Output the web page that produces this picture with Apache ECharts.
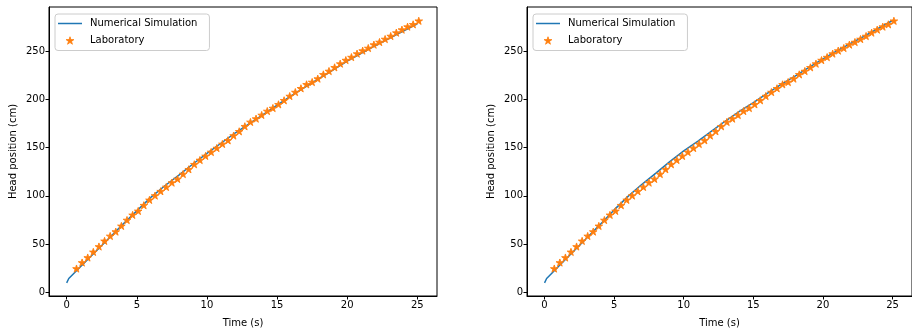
<!DOCTYPE html>
<html>
<head>
<meta charset="utf-8">
<script src="https://cdn.jsdelivr.net/npm/echarts@6/dist/echarts.min.js"></script>
<style>
html,body{margin:0;padding:0;background:#fff;}
#chart{width:912px;height:333px;}
</style>
</head>
<body>
<div id="chart"></div>
<script>
// ---- data ----
var labTime = [0.7,1.1,1.5,1.9,2.3,2.7,3.1,3.5,3.9,4.3,4.7,5.1,5.5,5.9,6.3,6.7,7.1,7.5,7.9,8.3,8.7,9.1,9.5,9.9,10.3,10.7,11.1,11.5,11.9,12.3,12.7,13.1,13.5,13.9,14.3,14.7,15.1,15.5,15.9,16.3,16.7,17.1,17.5,17.9,18.3,18.7,19.1,19.5,19.9,20.3,20.7,21.1,21.5,21.9,22.3,22.7,23.1,23.5,23.9,24.3,24.7,25.1];
var labPos = [24.8,31,36.2,42,47.6,53.4,58.5,63,68.9,75,80.3,84.4,90.3,95.8,100.3,104.8,109.2,113.7,117.5,122.6,127.5,132.7,137.1,141.3,145.4,149.5,153.7,157.5,162.4,166.8,172,176.5,179.9,183.7,187.8,190.9,194.7,198.9,203.3,207.4,211.3,215.4,217.8,221.3,225.7,229.2,233,236.8,240.5,243.6,247.2,250.3,253,256.5,259.2,262.3,265.4,268.9,272,275.1,277.5,281.2];
var simTime = [0,0.15,0.7,1,2,3,4,5,6,7,8,9,10,11,12,13,14,15,16,17,18,19,20,21,22,23,24,25];
var simLeft = [10,14.5,22.5,27,41.5,56,70.5,84.5,98.5,110.5,121.5,133,144,154.5,165,174.5,184,194,203.5,212.5,221.5,230.5,239.5,247.5,255.5,263,270.5,278];
var simRight = [10,14.5,22.5,27,41.5,56,70.5,85.5,99.5,112,123.5,135.5,146.5,156.5,167,177.5,187.5,196.5,206,215.5,224,233,241.8,250,257.8,265.5,273.5,281.5];
var xTicks = [0,5,10,15,20,25];
var yTicks = [0,50,100,150,200,250];
var xName = 'Time (s)';
var yName = 'Head position (cm)';
var simName = 'Numerical Simulation';
var labName = 'Laboratory';

function pairs(xs, ys){ return xs.map(function(x,i){ return [x, ys[i]]; }); }

var STAR = 'path://M50 0 L61.23 34.55 L97.55 34.55 L68.17 55.9 L79.39 90.45 L50 69.1 L20.61 90.45 L31.83 55.9 L2.45 34.55 L38.77 34.55 Z';
var BAR = 'path://M0 0 L100 0 L100 6.25 L0 6.25 Z';
var FONT = 'DejaVu Sans';
var BLUE = '#1f77b4', ORANGE = '#ff7f0e';

function xAxis(gi){
  return {
    type:'value', gridIndex:gi, min:-1.26, max:26.4,
    name:xName, nameLocation:'middle', nameGap:22,
    nameTextStyle:{fontFamily:FONT, fontSize:10, color:'#000'},
    axisLine:{show:true, onZero:false, lineStyle:{color:'#000', width:1}},
    axisTick:{show:true, inside:false, length:3.5, customValues:xTicks, lineStyle:{color:'#000', width:1}},
    axisLabel:{show:true, margin:4, customValues:xTicks, fontFamily:FONT, fontSize:10, color:'#000'},
    splitLine:{show:false}
  };
}
function yAxis(gi){
  return {
    type:'value', gridIndex:gi, min:-3.6, max:295.5,
    name:yName, nameLocation:'middle', nameGap:31,
    nameTextStyle:{fontFamily:FONT, fontSize:10, color:'#000'},
    axisLine:{show:true, onZero:false, lineStyle:{color:'#000', width:1}},
    axisTick:{show:true, inside:false, length:3.5, customValues:yTicks, lineStyle:{color:'#000', width:1}},
    axisLabel:{show:true, margin:4, customValues:yTicks, fontFamily:FONT, fontSize:10, color:'#000'},
    splitLine:{show:false}
  };
}
function legend(left){
  return {
    orient:'vertical', left:left, top:14,
    itemWidth:24, itemHeight:7.5, itemGap:7,
    padding:[4.5,12,5,3],
    borderColor:'#cccccc', borderWidth:1, borderRadius:3,
    backgroundColor:'rgba(255,255,255,0.8)',
    textStyle:{fontFamily:FONT, fontSize:10, color:'#000', padding:[0,0,0,3]},
    data:[{name:simName, icon:BAR, itemStyle:{color:BLUE, borderWidth:0}},
          {name:labName, icon:STAR, itemStyle:{color:ORANGE, borderColor:ORANGE, borderWidth:0.8}}],
    selectedMode:false
  };
}
var starStyle = {color:ORANGE, borderColor:ORANGE, borderWidth:0.9, opacity:1};

var chart = echarts.init(document.getElementById('chart'), null, {renderer:'canvas'});
chart.setOption({
  animation:false,
  backgroundColor:'#fff',
  grid:[
    {left:49, top:7, width:388, height:290, show:true, borderColor:'#000', borderWidth:1, containLabel:false},
    {left:527, top:7, width:388, height:290, show:true, borderColor:'#000', borderWidth:1, containLabel:false}
  ],
  legend:[legend(55), legend(533)],
  xAxis:[xAxis(0), xAxis(1)],
  yAxis:[yAxis(0), yAxis(1)],
  series:[
    {name:simName, type:'line', xAxisIndex:0, yAxisIndex:0, data:pairs(simTime, simLeft),
     symbol:'none', showSymbol:false, smooth:false, lineStyle:{color:BLUE, width:1.5}, itemStyle:{color:BLUE}, z:2},
    {name:labName, type:'scatter', xAxisIndex:0, yAxisIndex:0, data:pairs(labTime, labPos),
     symbol:STAR, symbolSize:[7.6,7.2], itemStyle:starStyle, z:3},
    {name:simName, type:'line', xAxisIndex:1, yAxisIndex:1, data:pairs(simTime, simRight),
     symbol:'none', showSymbol:false, smooth:false, lineStyle:{color:BLUE, width:1.5}, itemStyle:{color:BLUE}, z:2},
    {name:labName, type:'scatter', xAxisIndex:1, yAxisIndex:1, data:pairs(labTime, labPos),
     symbol:STAR, symbolSize:[7.6,7.2], itemStyle:starStyle, z:3}
  ]
});
</script>
</body>
</html>
